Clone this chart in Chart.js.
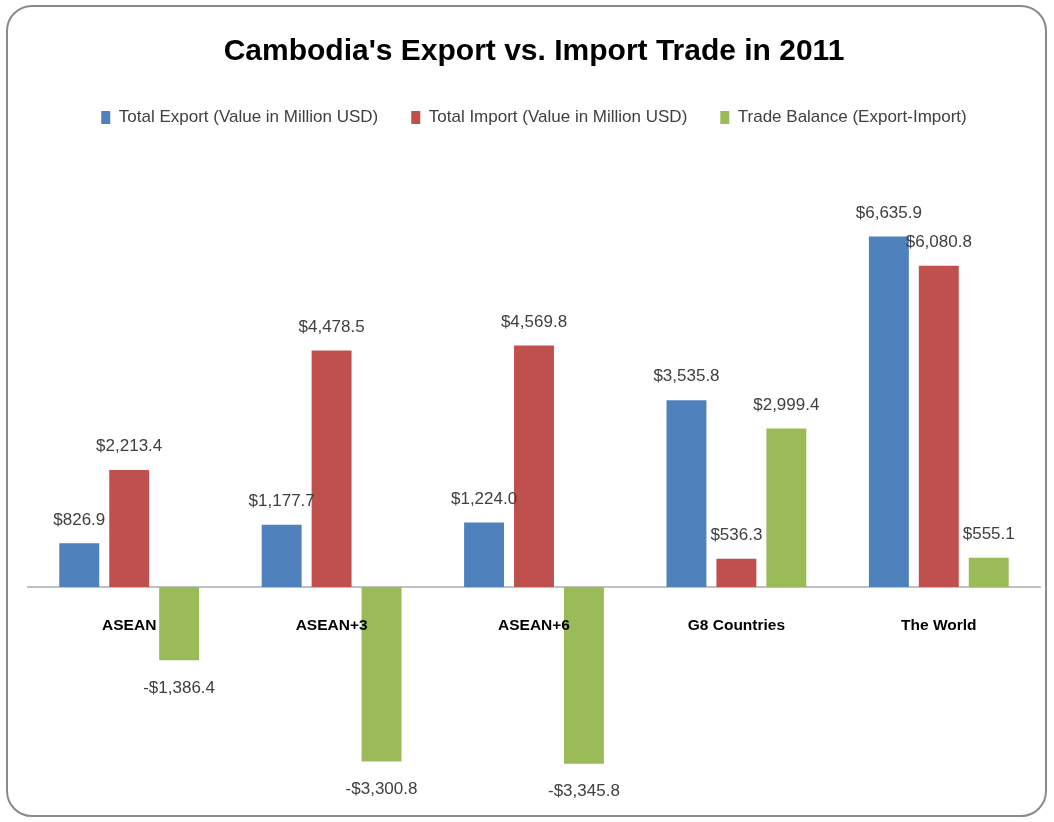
<!DOCTYPE html>
<html>
<head>
<meta charset="utf-8">
<script src="https://cdn.jsdelivr.net/npm/chart.js@4.4.1/dist/chart.umd.min.js"></script>
<style>
  html, body { margin: 0; padding: 0; background: #fff; }
  #frame {
    position: absolute; left: 6px; top: 5px; width: 1041px; height: 812px;
    border: 2px solid #8a8a8a; border-radius: 26px; box-sizing: border-box;
  }
  #wrap { position: absolute; left: 0; top: 0; width: 1054px; height: 822px; }
</style>
</head>
<body>
<div id="frame"></div>
<div id="wrap"><canvas id="myChart" width="1054" height="822"></canvas></div>
<script>
// categories and series
const categorias = ["ASEAN", "ASEAN+3", "ASEAN+6", "G8 Countries", "The World"];
const exportaciones = [826.9, 1177.7, 1224.0, 3535.8, 6635.9];
const importaciones = [2213.4, 4478.5, 4569.8, 536.3, 6080.8];
const balanza = [-1386.4, -3300.8, -3345.8, 2999.4, 555.1];
const nombres = [
  "Total Export (Value in Million USD)",
  "Total Import (Value in Million USD)",
  "Trade Balance (Export-Import)"
];

const FUENTE = "'Liberation Sans', Arial, sans-serif";

function formatoDolar(v) {
  let s = "$" + Math.abs(v).toLocaleString("en-US", { minimumFractionDigits: 1, maximumFractionDigits: 1 });
  return v < 0 ? "-" + s : s;
}

// draws the value labels above / below each bar
const etiquetas = {
  id: "etiquetas",
  afterDatasetsDraw(chart) {
    const ctx = chart.ctx;
    ctx.save();
    ctx.font = "17px " + FUENTE;
    ctx.fillStyle = "#404040";
    ctx.textAlign = "center";
    chart.data.datasets.forEach(function (ds, i) {
      chart.getDatasetMeta(i).data.forEach(function (bar, j) {
        let v = ds.data[j];
        if (v >= 0) {
          ctx.textBaseline = "bottom";
          ctx.fillText(formatoDolar(v), bar.x, bar.y - 15);
        } else {
          ctx.textBaseline = "top";
          ctx.fillText(formatoDolar(v), bar.x, bar.y + 19);
        }
      });
    });
    ctx.restore();
  }
};

new Chart("myChart", {
  type: "bar",
  data: {
    labels: categorias,
    datasets: [
      { label: nombres[0], data: exportaciones, backgroundColor: "#4F81BD" },
      { label: nombres[1], data: importaciones, backgroundColor: "#C0504D" },
      { label: nombres[2], data: balanza, backgroundColor: "#9BBB59" }
    ]
  },
  plugins: [etiquetas],
  options: {
    responsive: false,
    animation: false,
    categoryPercentage: 0.74,
    barPercentage: 0.8,
    layout: { padding: { left: 28, right: 14, top: 0, bottom: 26 } },
    plugins: {
      tooltip: { enabled: false },
      title: {
        display: true,
        text: "Cambodia's Export vs. Import Trade in 2011",
        color: "#000",
        font: { family: FUENTE, size: 30, weight: "bold" },
        padding: { top: 34, bottom: 6 }
      },
      legend: {
        display: true,
        labels: {
          color: "#404040",
          font: { family: FUENTE, size: 17 },
          boxWidth: 9,
          boxHeight: 13,
          padding: 33
        }
      }
    },
    scales: {
      x: {
        position: { y: 0 },
        grid: { display: false },
        border: { display: true, color: "#c0c0c0", width: 2 },
        ticks: {
          z: 1,
          color: "#000",
          padding: 21,
          font: { family: FUENTE, size: 15.5, weight: "bold" }
        }
      },
      y: {
        display: false,
        min: -3954,
        max: 8536
      }
    }
  }
});
</script>
</body>
</html>
